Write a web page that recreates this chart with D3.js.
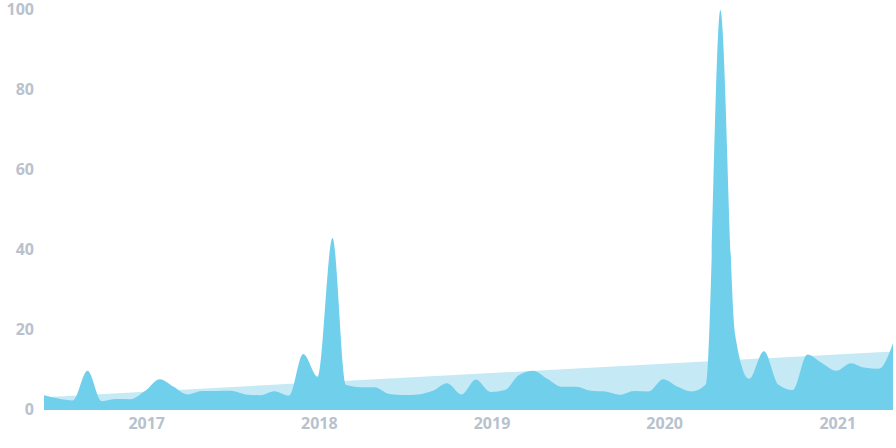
<!DOCTYPE html>
<meta charset="utf-8">
<head>
  <script src="https://d3js.org/d3.v7.min.js"></script>
  <style>
    body { margin: 0; background: #fff; }
    .axis text { font-family: "Open Sans", sans-serif; font-weight: 700; font-size: 16px; fill: #b8c2ce; }
  </style>
</head>
<body>
  <svg id="chart"></svg>
  <script>
    // monthly interest values, Jun 2016 .. May 2021
    var months = ["2016-06","2016-07","2016-08","2016-09","2016-10","2016-11","2016-12",
      "2017-01","2017-02","2017-03","2017-04","2017-05","2017-06","2017-07","2017-08","2017-09","2017-10","2017-11","2017-12",
      "2018-01","2018-02","2018-03","2018-04","2018-05","2018-06","2018-07","2018-08","2018-09","2018-10","2018-11","2018-12",
      "2019-01","2019-02","2019-03","2019-04","2019-05","2019-06","2019-07","2019-08","2019-09","2019-10","2019-11","2019-12",
      "2020-01","2020-02","2020-03","2020-04","2020-05","2020-06","2020-07","2020-08","2020-09","2020-10","2020-11","2020-12",
      "2021-01","2021-02","2021-03","2021-04","2021-05"]
    var interest = [3.7, 2.9, 2.4, 9.8, 2.2, 2.75, 2.7,
      4.8, 7.7, 5.9, 3.9, 4.75, 4.75, 4.8, 3.9, 3.7, 4.7, 3.6, 14,
      8.3, 43, 6.3, 5.7, 5.7, 4.0, 3.75, 3.9, 4.8, 6.7, 3.9, 7.6,
      4.5, 5.0, 8.6, 9.8, 7.8, 5.8, 5.8, 4.8, 4.6, 3.8, 4.75, 4.6,
      7.7, 5.8, 4.6, 6.5, 100, 19, 7.8, 14.7, 6.3, 5.0, 13.9, 11.8,
      9.8, 11.7, 10.6, 10.3, 16.7]
    // trend line at first and last month
    var trendMonths = ["2016-06", "2021-05"]
    var trendValues = [3.2, 14.65]

    var yTicks = [0, 20, 40, 60, 80, 100]
    var xTicks = ["2017", "2018", "2019", "2020", "2021"]

    var width = 896, height = 448
    var parseMonth = d3.timeParse("%Y-%m")
    var parseYear = d3.timeParse("%Y")

    var data = months.map(function(m, i){ return {date: parseMonth(m), val: interest[i]} })
    var trend = trendMonths.map(function(m, i){ return {date: parseMonth(m), val: trendValues[i]} })

    var svg = d3.select("#chart")
      .attr("width", width)
      .attr("height", height)

    var x = d3.scaleTime()
      .domain([parseMonth(months[0]), parseMonth(months[months.length - 1])])
      .range([44, 893])
    var y = d3.scaleLinear().domain([0, 100]).range([410, 10])

    // light trend area behind
    svg.append("path")
      .datum(trend)
      .attr("fill", "#c5eaf6")
      .attr("d", d3.area()
        .x(function(d){ return x(d.date) })
        .y0(y(0))
        .y1(function(d){ return y(d.val) }))

    // main area
    svg.append("path")
      .datum(data)
      .attr("fill", "#70cfeb")
      .attr("d", d3.area()
        .curve(d3.curveMonotoneX)
        .x(function(d){ return x(d.date) })
        .y0(y(0))
        .y1(function(d){ return y(d.val) }))

    // y labels
    var yAxis = svg.append("g")
      .attr("class", "axis")
      .attr("transform", "translate(37,-1)")
      .call(d3.axisLeft(y).tickValues(yTicks).tickSize(0).tickPadding(3))
    yAxis.select(".domain").remove()

    // x labels
    var xAxis = svg.append("g")
      .attr("class", "axis")
      .attr("transform", "translate(1,412)")
      .call(d3.axisBottom(x).tickValues(xTicks.map(parseYear)).tickSize(0).tickPadding(6)
        .tickFormat(d3.timeFormat("%Y")))
    xAxis.select(".domain").remove()
  </script>
</body>
